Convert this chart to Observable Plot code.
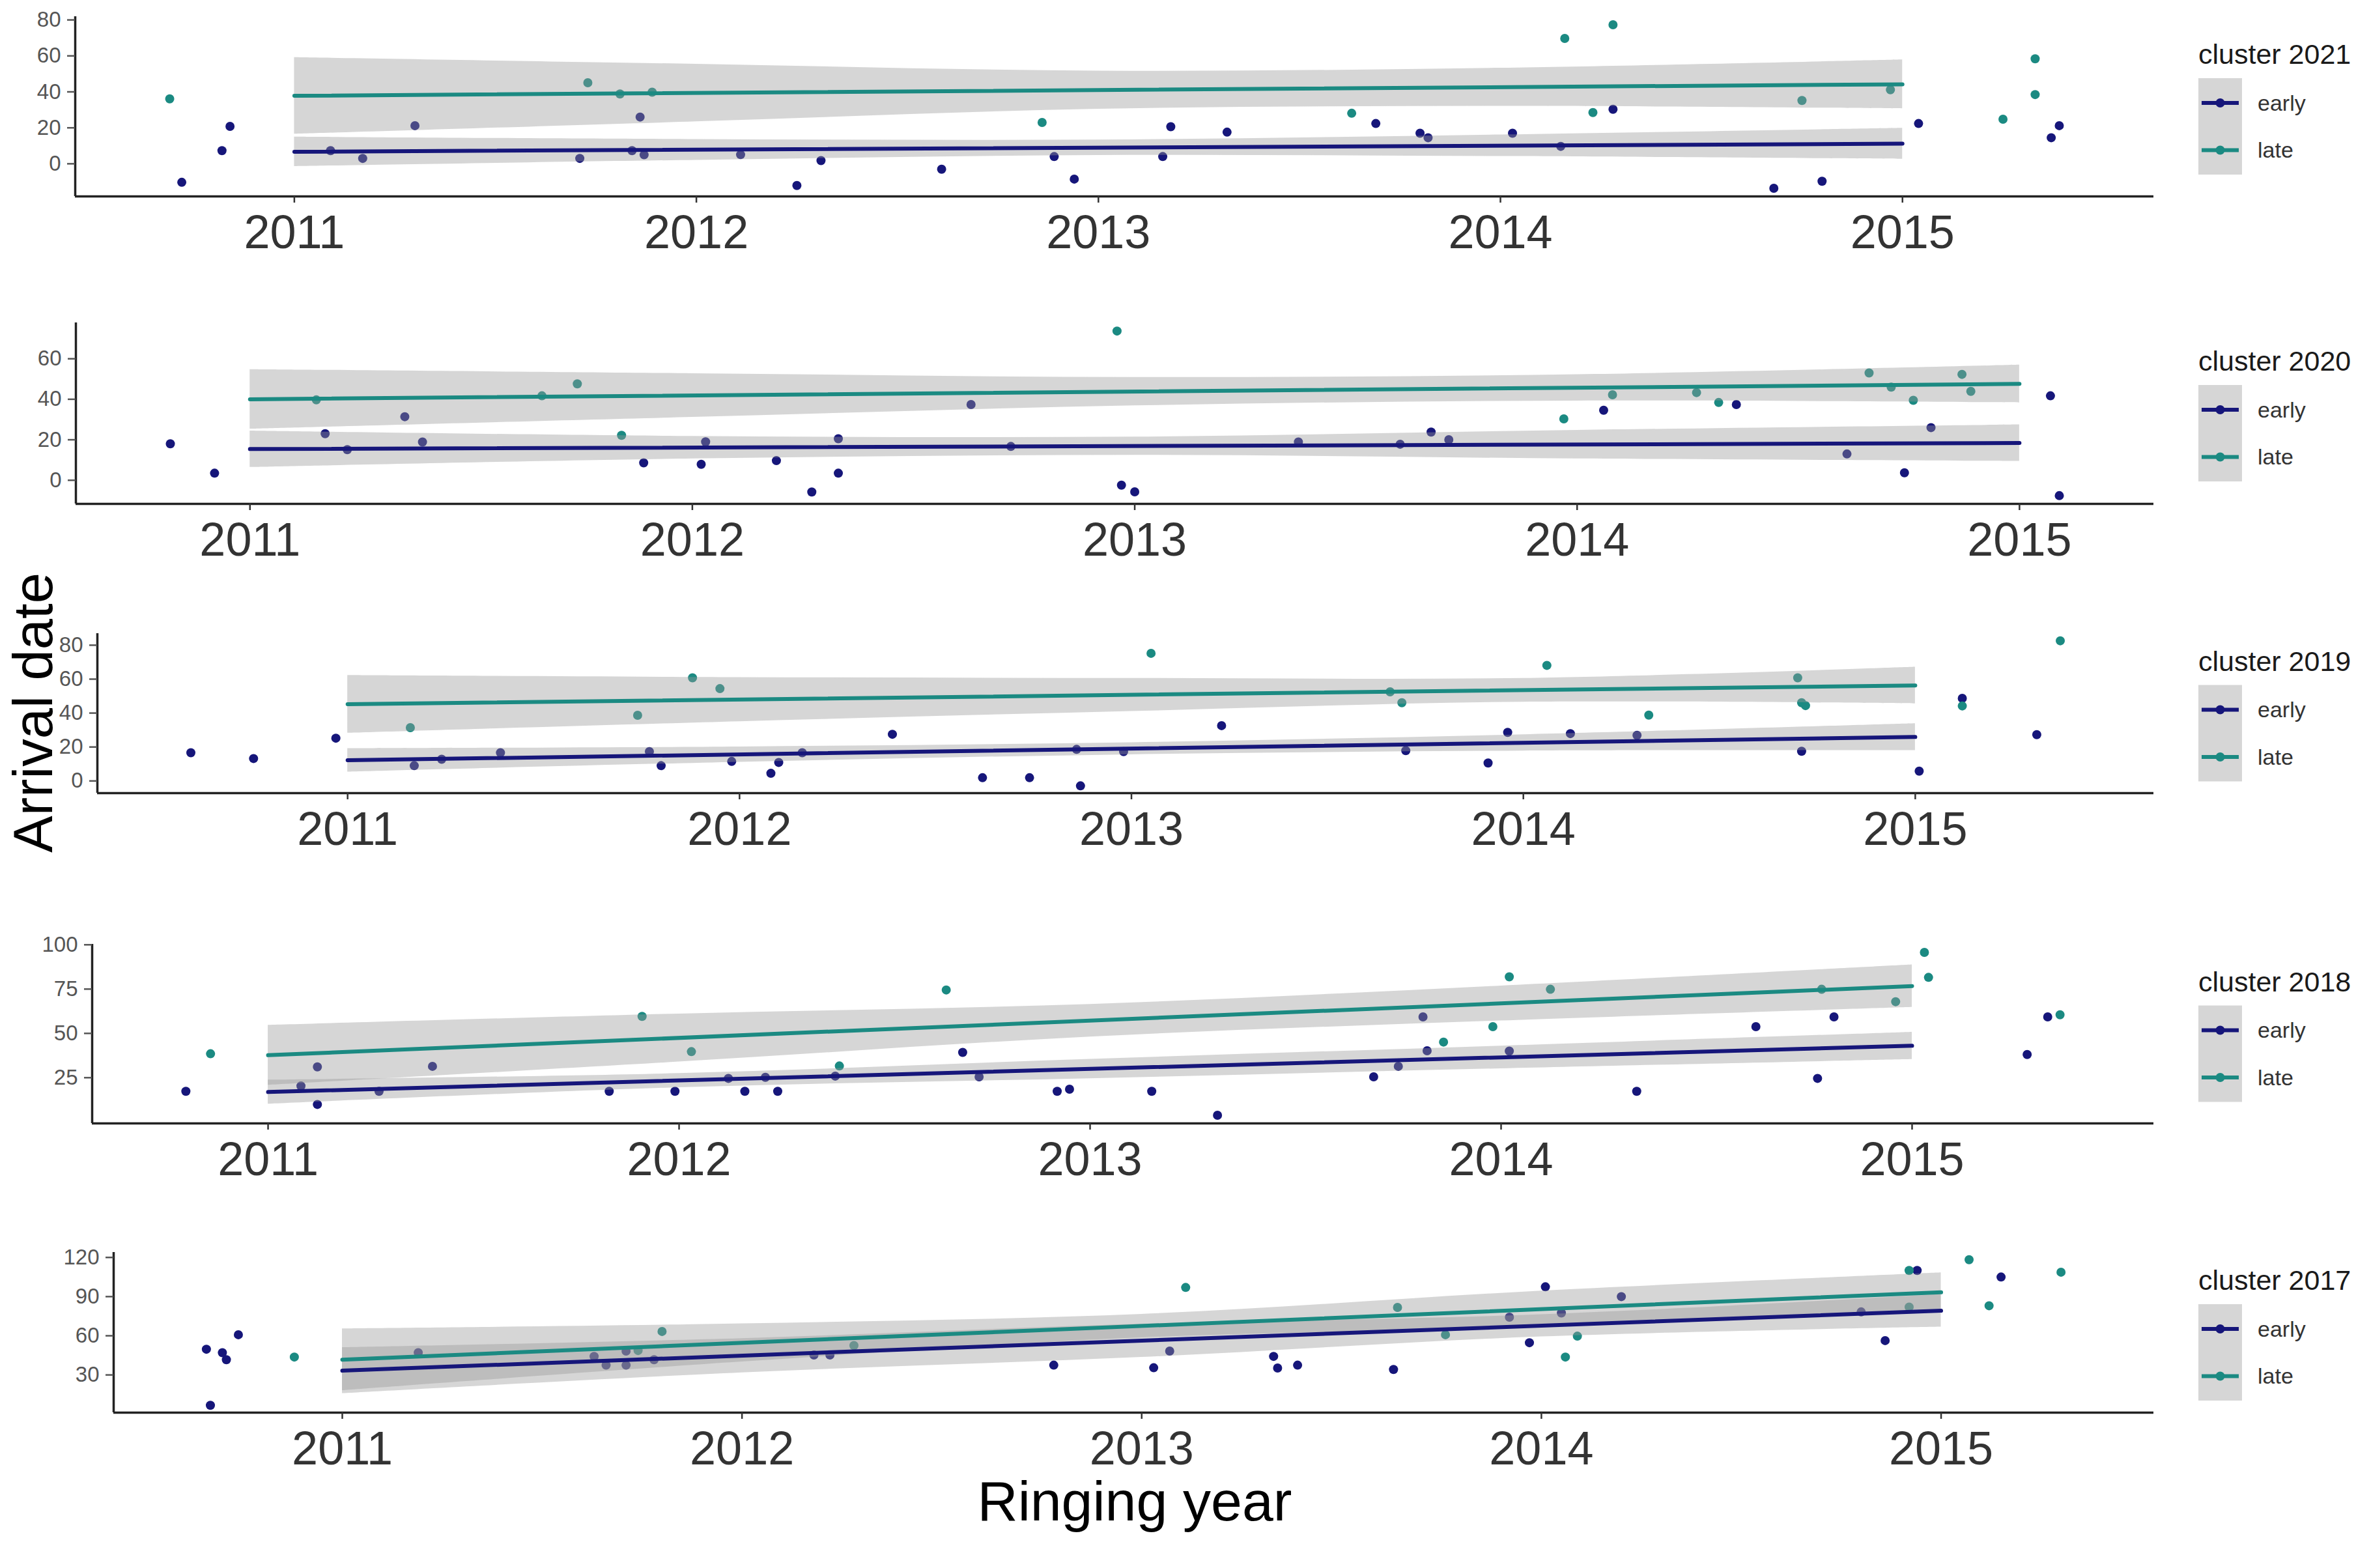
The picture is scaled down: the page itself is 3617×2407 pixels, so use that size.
<!DOCTYPE html>
<html><head><meta charset="utf-8">
<script src="https://cdn.jsdelivr.net/npm/d3@7"></script>
<script src="https://cdn.jsdelivr.net/npm/@observablehq/plot@0.6"></script>
<style>
body{margin:0;background:#fff;}
#root{position:relative;width:3617px;height:2407px;background:#fff;font-family:"Liberation Sans",Arial,sans-serif;overflow:hidden}
#root svg.panel{position:absolute;left:0}
#overlay{position:absolute;left:0;top:0}
</style></head><body><div id="root"></div>
<script>
// ---------- DATA ----------
const yearTicks = [2011, 2012, 2013, 2014, 2015];
const fitYears = [2011, 2015];
const bandYears = [2011, 2012, 2013, 2014, 2015];
const groupNames = ["early", "late"];
const clusterNames = ["cluster 2021", "cluster 2020", "cluster 2019", "cluster 2018", "cluster 2017"];

// cluster 2021
const early2021 = [[2010.72,-10.3],[2010.82,7.3],[2010.84,20.8],[2011.09,7.3],[2011.17,3],[2011.30,21.2],[2011.71,3],[2011.84,7.3],[2011.86,26],[2011.87,5],[2012.11,5.1],[2012.25,-12.1],[2012.31,1.8],[2012.61,-3],[2012.89,4],[2012.94,-8.5],[2013.16,4],[2013.18,20.6],[2013.32,17.6],[2013.69,22.4],[2013.80,17],[2013.82,14.5],[2014.03,17],[2014.15,9.7],[2014.28,30.3],[2014.68,-13.6],[2014.80,-9.7],[2015.04,22.4],[2015.37,14.5],[2015.39,21.2]];
const late2021 = [[2010.69,36.1],[2011.73,45.1],[2011.81,38.8],[2011.89,39.8],[2012.86,23],[2013.63,28.1],[2014.16,69.7],[2014.23,28.5],[2014.28,77.3],[2014.75,35.2],[2014.97,41.2],[2015.25,24.8],[2015.33,38.5],[2015.33,58.4]];
const fitEarly2021 = [6.7, 11.2];
const fitLate2021 = [37.8, 44.2];
const bandEarlyLo2021 = [-1.5, 2, 4.7, 4.1, 2.6];
const bandEarlyHi2021 = [14.9, 13.6, 13.3, 16.1, 19.8];
const bandLateLo2021 = [16.5, 23.4, 30.4, 32, 30.6];
const bandLateHi2021 = [59.1, 55.4, 51.6, 53.2, 57.8];
const yTicks2021 = [0, 20, 40, 60, 80];

// cluster 2020
const early2020 = [[2010.82,18],[2010.92,3.5],[2011.17,23],[2011.22,15.1],[2011.35,31.4],[2011.39,18.9],[2011.89,8.6],[2012.02,7.9],[2012.03,19],[2012.19,9.7],[2012.27,-5.8],[2012.33,3.5],[2012.33,20.5],[2012.63,37.4],[2012.72,16.7],[2012.97,-2.4],[2013.00,-5.7],[2013.37,18.9],[2013.60,17.8],[2013.67,23.8],[2013.71,20],[2014.06,34.6],[2014.36,37.4],[2014.61,13],[2014.74,3.7],[2014.80,26],[2015.07,41.7],[2015.09,-7.6]];
const late2020 = [[2011.15,39.7],[2011.66,41.7],[2011.74,47.6],[2011.84,22.2],[2012.96,73.7],[2013.97,30.3],[2014.08,42.2],[2014.27,43.3],[2014.32,38.4],[2014.66,53],[2014.71,46],[2014.76,39.5],[2014.87,52.3],[2014.89,43.9]];
const fitEarly2020 = [15.4, 18.4];
const fitLate2020 = [40, 47.6];
const bandEarlyLo2020 = [6.4, 10.6, 12.4, 10.6, 9.4];
const bandEarlyHi2020 = [24.4, 21.7, 21.4, 24.7, 27.4];
const bandLateLo2020 = [25.3, 31.1, 36.8, 39.2, 38.3];
const bandLateHi2020 = [54.7, 52.7, 50.8, 52.2, 56.9];
const yTicks2020 = [0, 20, 40, 60];

// cluster 2019
const early2019 = [[2010.60,16.6],[2010.76,13.2],[2010.97,25.2],[2011.17,9],[2011.24,12.8],[2011.39,16.6],[2011.77,17.3],[2011.80,9],[2011.98,11.5],[2012.08,4.5],[2012.10,10.9],[2012.16,16.6],[2012.39,27.5],[2012.62,1.9],[2012.74,1.9],[2012.86,18.6],[2012.87,-2.9],[2012.98,17.3],[2013.23,32.6],[2013.70,17.9],[2013.91,10.6],[2013.96,28.6],[2014.12,27.9],[2014.29,26.9],[2014.71,17.5],[2015.01,5.8],[2015.12,48.7],[2015.31,27.3]];
const late2019 = [[2011.16,31.4],[2011.74,38.7],[2011.88,60.8],[2011.95,54.4],[2013.05,75.2],[2013.66,52.5],[2013.69,46.1],[2014.06,68.1],[2014.32,38.8],[2014.70,60.8],[2014.71,46.1],[2014.72,44.4],[2015.12,44.2],[2015.37,82.6]];
const fitEarly2019 = [12.2, 25.9];
const fitLate2019 = [45.2, 56.3];
const bandEarlyLo2019 = [5.3, 11.1, 15.5, 17.7, 18];
const bandEarlyHi2019 = [19.1, 20.1, 22.6, 27.3, 33.8];
const bandLateLo2019 = [28.2, 35, 41, 46.5, 45.5];
const bandLateHi2019 = [62.2, 61, 60.5, 60.5, 67.1];
const yTicks2019 = [0, 20, 40, 60, 80];

// cluster 2018
const early2018 = [[2010.80,17.3],[2011.08,20.3],[2011.12,31.1],[2011.12,9.9],[2011.27,17.3],[2011.40,31.4],[2011.83,17.3],[2011.99,17.3],[2012.12,24.6],[2012.16,17.3],[2012.21,25.2],[2012.24,17.3],[2012.38,25.9],[2012.69,39.3],[2012.73,25.5],[2012.92,17.3],[2012.95,18.5],[2013.15,17.3],[2013.31,3.8],[2013.69,25.5],[2013.75,31.4],[2013.81,59.3],[2013.82,40.2],[2014.02,40],[2014.33,17.3],[2014.62,53.8],[2014.77,24.6],[2014.81,59.3],[2015.28,38.1],[2015.33,59.3]];
const late2018 = [[2010.86,38.5],[2011.91,59.6],[2012.03,39.7],[2012.39,31.6],[2012.65,74.5],[2013.86,45.1],[2013.98,53.8],[2014.02,81.9],[2014.12,74.9],[2014.78,74.9],[2014.96,67.9],[2015.03,95.7],[2015.04,81.6],[2015.36,60.5]];
const fitEarly2018 = [16.9, 43];
const fitLate2018 = [37.7, 76.7];
const bandEarlyLo2018 = [10.1, 19.4, 24.5, 30.1, 35.3];
const bandEarlyHi2018 = [23.7, 27.4, 35.4, 42.9, 50.7];
const bandLateLo2018 = [20.8, 33.9, 48, 57.1, 64.7];
const bandLateHi2018 = [54.6, 61, 66.4, 76.8, 88.7];
const yTicks2018 = [25, 50, 75, 100];

// cluster 2017
const early2017 = [[2010.66,49.7],[2010.67,6.7],[2010.70,47],[2010.71,41.7],[2010.74,60.8],[2011.19,47],[2011.63,44.2],[2011.66,37.5],[2011.71,48.3],[2011.71,37.5],[2011.78,41.7],[2012.18,45.3],[2012.22,45.3],[2012.78,37.5],[2013.03,35.5],[2013.07,48.3],[2013.33,44.2],[2013.34,35.3],[2013.39,37.5],[2013.63,34.2],[2013.92,74.2],[2013.97,54.7],[2014.01,97.5],[2014.05,77.5],[2014.20,90],[2014.80,78.3],[2014.86,56.3],[2014.94,110],[2015.15,105]];
const late2017 = [[2010.88,43.7],[2011.74,48.7],[2011.80,63.3],[2012.28,52.5],[2013.11,97],[2013.64,81.7],[2013.76,60.8],[2014.06,43.7],[2014.09,59.7],[2014.92,110],[2014.92,82],[2015.07,118.3],[2015.12,83],[2015.30,108.7]];
const fitEarly2017 = [33.3, 79.2];
const fitLate2017 = [41.7, 93.3];
const bandEarlyLo2017 = [15.8, 31.7, 43.5, 59.2, 66.7];
const bandEarlyHi2017 = [51, 57.9, 69, 76.2, 91.7];
const bandLateLo2017 = [18, 40, 58.5, 66.5, 78.3];
const bandLateHi2017 = [65.4, 69.2, 76.5, 94.3, 108.3];
const yTicks2017 = [30, 60, 90, 120];

const panels = [
  {early: early2021, late: late2021, fitEarly: fitEarly2021, fitLate: fitLate2021, earlyLo: bandEarlyLo2021, earlyHi: bandEarlyHi2021, lateLo: bandLateLo2021, lateHi: bandLateHi2021, yTicks: yTicks2021},
  {early: early2020, late: late2020, fitEarly: fitEarly2020, fitLate: fitLate2020, earlyLo: bandEarlyLo2020, earlyHi: bandEarlyHi2020, lateLo: bandLateLo2020, lateHi: bandLateHi2020, yTicks: yTicks2020},
  {early: early2019, late: late2019, fitEarly: fitEarly2019, fitLate: fitLate2019, earlyLo: bandEarlyLo2019, earlyHi: bandEarlyHi2019, lateLo: bandLateLo2019, lateHi: bandLateHi2019, yTicks: yTicks2019},
  {early: early2018, late: late2018, fitEarly: fitEarly2018, fitLate: fitLate2018, earlyLo: bandEarlyLo2018, earlyHi: bandEarlyHi2018, lateLo: bandLateLo2018, lateHi: bandLateHi2018, yTicks: yTicks2018},
  {early: early2017, late: late2017, fitEarly: fitEarly2017, fitLate: fitLate2017, earlyLo: bandEarlyLo2017, earlyHi: bandEarlyHi2017, lateLo: bandLateLo2017, lateHi: bandLateHi2017, yTicks: yTicks2017}
];

// ---------- LAYOUT / STYLE ----------
const layout = [
  {top: 25, bottom: 301, left: 115},
  {top: 495, bottom: 773, left: 116},
  {top: 972, bottom: 1217, left: 149},
  {top: 1449, bottom: 1724, left: 141},
  {top: 1922, bottom: 2168, left: 174}
];
const FONT = '"Liberation Sans", Arial, sans-serif';
const NAVY = "#16167a", TEAL = "#1b8a82";
const SVGW = 3330, RIGHT = 3306, MT = 20, MB = 110;

const root = document.getElementById("root");

panels.forEach((p, i) => {
  const L = layout[i];
  const pts = [
    ...p.early.map(([x, y]) => ({x, y, g: "early"})),
    ...p.late.map(([x, y]) => ({x, y, g: "late"}))
  ];
  const bands = groupNames.flatMap(g => bandYears.map((x, k) => ({x, g, lo: p[g + "Lo"][k], hi: p[g + "Hi"][k]})));
  const fits = [
    ...fitYears.map((x, k) => ({x, y: p.fitEarly[k], g: "early"})),
    ...fitYears.map((x, k) => ({x, y: p.fitLate[k], g: "late"}))
  ];
  const [x0, x1] = d3.extent(pts, d => d.x);
  const yAll = pts.map(d => d.y).concat(bands.map(d => d.lo), bands.map(d => d.hi));
  const [y0, y1] = d3.extent(yAll);
  const ex = (x1 - x0) * 0.05, ey = (y1 - y0) * 0.05;
  const xd = [x0 - ex, x1 + ex], yd = [y0 - ey, y1 + ey];

  const svg = Plot.plot({
    width: SVGW,
    height: (L.bottom - L.top) + MT + MB,
    marginTop: MT, marginBottom: MB, marginLeft: L.left, marginRight: SVGW - RIGHT,
    x: {domain: xd},
    y: {domain: yd},
    color: {domain: groupNames, range: [NAVY, TEAL]},
    style: {fontFamily: FONT, background: "transparent", overflow: "visible"},
    marks: [
      Plot.dot(pts, {x: "x", y: "y", r: 7, fill: "g", stroke: "none"}),
      Plot.areaY(bands, {x: "x", y1: "lo", y2: "hi", z: "g", fill: "#999999", fillOpacity: 0.4, curve: "catmull-rom"}),
      Plot.line(fits, {x: "x", y: "y", z: "g", stroke: "g", strokeWidth: 6}),
      Plot.ruleX([xd[0]], {stroke: "#222", strokeWidth: 3.5}),
      Plot.ruleY([yd[0]], {stroke: "#222", strokeWidth: 3.5}),
      Plot.axisX(yearTicks, {tickSize: 10, tickPadding: 18, fontSize: 72, color: "#333", strokeWidth: 2.5, tickFormat: d => String(d), label: null}),
      Plot.axisY(p.yTicks, {tickSize: 12, tickPadding: 10, fontSize: 33, color: "#555", strokeWidth: 2.5, label: null})
    ]
  });
  svg.classList.add("panel");
  svg.style.top = (L.top - MT) + "px";
  root.appendChild(svg);
});

// Overlay: axis titles and legends
const ov = d3.select(root).append("svg").attr("id", "overlay")
  .attr("width", 3617).attr("height", 2407).style("font-family", FONT);

ov.append("text").attr("transform", "translate(80,1094) rotate(-90)")
  .attr("text-anchor", "middle").attr("font-size", 85).attr("fill", "#000").text("Arrival date");
ov.append("text").attr("x", 1742).attr("y", 2334)
  .attr("text-anchor", "middle").attr("font-size", 86).attr("fill", "#000").text("Ringing year");

const colors = {early: NAVY, late: TEAL};
layout.forEach((L, i) => {
  const c = (L.top + L.bottom) / 2;
  const g = ov.append("g");
  g.append("text").attr("x", 3375).attr("y", c - 65).attr("font-size", 43).attr("fill", "#1a1a1a").text(clusterNames[i]);
  g.append("rect").attr("x", 3375).attr("y", c - 43).attr("width", 67).attr("height", 148).attr("fill", "#d6d6d6");
  groupNames.forEach((name, k) => {
    const ky = k === 0 ? c - 5 : c + 67.5;
    g.append("line").attr("x1", 3380).attr("x2", 3437).attr("y1", ky).attr("y2", ky)
      .attr("stroke", colors[name]).attr("stroke-width", 6);
    g.append("circle").attr("cx", 3408.5).attr("cy", ky).attr("r", 7).attr("fill", colors[name]);
    g.append("text").attr("x", 3466).attr("y", ky).attr("dy", "0.35em").attr("font-size", 34)
      .attr("fill", "#333").text(name);
  });
});
</script>
</body></html>
